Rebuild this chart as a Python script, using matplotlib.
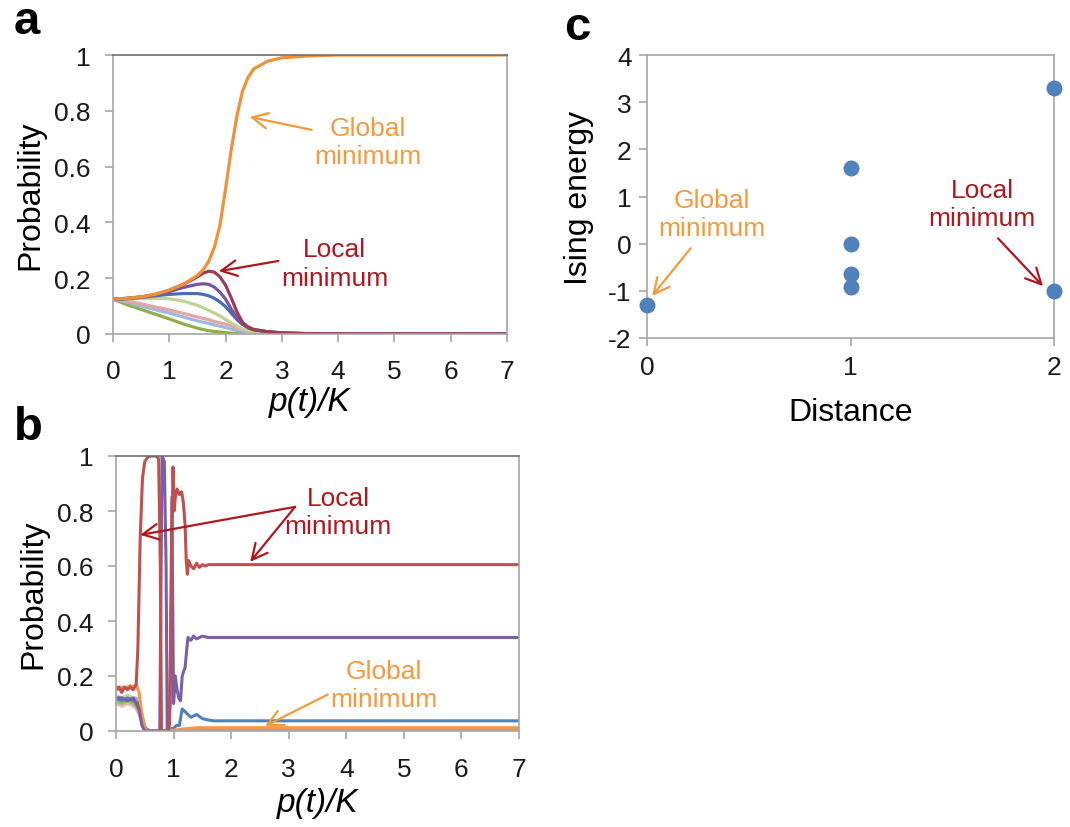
import matplotlib
matplotlib.use("Agg")
import matplotlib.pyplot as plt

plt.rcParams['font.family'] = ['Liberation Sans', 'DejaVu Sans']
plt.rcParams['axes.unicode_minus'] = False

# ---------------- Panel a data ----------------
xa = [0, 0.25, 0.5, 0.75, 1.0, 1.25, 1.5, 1.6, 1.7, 1.8, 1.9, 2.0, 2.1, 2.2, 2.3, 2.4, 2.5, 2.75, 3.0, 3.5, 4.0, 5.0, 6.0, 7.0]
a_global = [0.125, 0.128, 0.133, 0.142, 0.157, 0.178, 0.21, 0.23, 0.26, 0.31, 0.39, 0.52, 0.66, 0.78, 0.87, 0.92, 0.95, 0.978, 0.99, 0.997, 1, 1, 1, 1]
a_local = [0.125, 0.128, 0.133, 0.142, 0.157, 0.178, 0.205, 0.218, 0.225, 0.222, 0.205, 0.175, 0.13, 0.08, 0.042, 0.025, 0.016, 0.008, 0.004, 0.001, 0, 0, 0, 0]
a_purple = [0.125, 0.127, 0.132, 0.14, 0.152, 0.167, 0.178, 0.18, 0.178, 0.168, 0.15, 0.125, 0.09, 0.058, 0.035, 0.022, 0.015, 0.008, 0.004, 0.001, 0, 0, 0, 0]
a_blue = [0.125, 0.127, 0.131, 0.137, 0.142, 0.145, 0.145, 0.142, 0.137, 0.128, 0.115, 0.098, 0.075, 0.052, 0.035, 0.024, 0.016, 0.008, 0.004, 0.001, 0, 0, 0, 0]
a_lgreen = [0.125, 0.126, 0.128, 0.128, 0.126, 0.118, 0.103, 0.094, 0.085, 0.075, 0.065, 0.052, 0.04, 0.028, 0.018, 0.011, 0.007, 0.003, 0.001, 0, 0, 0, 0, 0]
a_pink = [0.125, 0.118, 0.108, 0.097, 0.086, 0.074, 0.061, 0.056, 0.051, 0.045, 0.04, 0.035, 0.03, 0.022, 0.015, 0.01, 0.007, 0.003, 0.001, 0, 0, 0, 0, 0]
a_lblue = [0.125, 0.114, 0.1, 0.087, 0.075, 0.061, 0.047, 0.042, 0.038, 0.033, 0.028, 0.023, 0.018, 0.013, 0.009, 0.006, 0.004, 0.002, 0.001, 0, 0, 0, 0, 0]
a_green = [0.125, 0.105, 0.088, 0.071, 0.054, 0.036, 0.021, 0.016, 0.012, 0.009, 0.007, 0.005, 0.003, 0.002, 0.001, 0, 0, 0, 0, 0, 0, 0, 0, 0]

# ---------------- Panel b data ----------------
xb_red = [0, 0.05, 0.1, 0.15, 0.2, 0.25, 0.3, 0.35, 0.38, 0.42, 0.46, 0.5, 0.55, 0.6, 0.65, 0.7, 0.74, 0.77, 0.79, 0.82,
          0.86, 0.9, 0.93, 0.96, 0.99, 1.01, 1.03, 1.06, 1.1, 1.14, 1.17, 1.2, 1.22, 1.24, 1.26, 1.3, 1.35, 1.4, 1.45,
          1.5, 1.55, 1.6, 1.7, 1.8, 7.0]
yb_red = [0.15, 0.16, 0.14, 0.16, 0.15, 0.16, 0.15, 0.17, 0.3, 0.7, 0.92, 0.98, 0.995, 1.0, 1.0, 1.0, 0.99, 0.6, 0.0, 0.0,
          0.0, 0.0, 0.02, 0.5, 0.96, 0.8, 0.85, 0.88, 0.86, 0.87, 0.83, 0.75, 0.62, 0.57, 0.62, 0.6, 0.59, 0.61, 0.595,
          0.605, 0.6, 0.605, 0.605, 0.605, 0.605]
xb_purple = [0, 0.1, 0.2, 0.3, 0.4, 0.45, 0.5, 0.6, 0.7, 0.76, 0.78, 0.8, 0.84, 0.87, 0.89, 0.91, 0.94, 0.97, 1.0, 1.03,
             1.06, 1.09, 1.12, 1.15, 1.18, 1.2, 1.23, 1.25, 1.3, 1.35, 1.4, 1.45, 1.5, 1.6, 1.7, 7.0]
yb_purple = [0.12, 0.12, 0.11, 0.12, 0.08, 0.02, 0.0, 0.0, 0.0, 0.0, 0.5, 1.0, 0.98, 0.6, 0.0, 0.0, 0.1, 0.85, 0.1, 0.2,
             0.15, 0.12, 0.11, 0.2, 0.22, 0.23, 0.3, 0.34, 0.33, 0.345, 0.335, 0.34, 0.345, 0.34, 0.34, 0.34]
xb_blue = [0, 0.1, 0.2, 0.3, 0.4, 0.45, 0.5, 0.6, 0.8, 1.0, 1.05, 1.1, 1.15, 1.2, 1.25, 1.3, 1.4, 1.5, 1.6, 1.7, 7.0]
yb_blue = [0.12, 0.11, 0.12, 0.11, 0.1, 0.05, 0.01, 0.0, 0.0, 0.01, 0.02, 0.02, 0.08, 0.07, 0.06, 0.05, 0.06, 0.045, 0.04, 0.037, 0.037]
xb_orange = [0, 0.05, 0.1, 0.15, 0.2, 0.25, 0.3, 0.35, 0.4, 0.45, 0.5, 0.55, 0.8, 1.0, 1.2, 1.4, 7.0]
yb_orange = [0.16, 0.15, 0.16, 0.155, 0.16, 0.165, 0.16, 0.17, 0.14, 0.06, 0.01, 0.0, 0.0, 0.003, 0.008, 0.012, 0.012]
xb_pale = [0, 0.1, 0.2, 0.3, 0.35, 0.4, 0.45, 0.5, 0.55, 1.0, 1.4, 7.0]
yb_lgreen = [0.13, 0.12, 0.13, 0.12, 0.11, 0.08, 0.04, 0.01, 0.0, 0.0, 0.006, 0.006]
yb_pink = [0.1, 0.09, 0.1, 0.09, 0.08, 0.06, 0.03, 0.01, 0.0, 0.0, 0.004, 0.004]
yb_lblue = [0.12, 0.12, 0.11, 0.12, 0.12, 0.1, 0.06, 0.02, 0.0, 0.0, 0.003, 0.003]
yb_green = [0.11, 0.1, 0.11, 0.1, 0.09, 0.07, 0.03, 0.005, 0.0, 0.0, 0.008, 0.008]

# ---------------- Panel c data ----------------
distance = [0, 1, 1, 1, 1, 2, 2]
ising_energy = [-1.3, 1.6, 0.0, -0.65, -0.92, 3.3, -1.0]

# ---------------- Styling ----------------
ORANGE = '#F0913A'
LOCAL_RED = '#B0161E'
GLOBAL_TXT = '#F39A3C'
SPINE = '#A6A6A6'
TICK_FS = 19
LABEL_FS = 23

fig = plt.figure(figsize=(10.7, 8.28), dpi=100)

def style_axes(ax, dark_top=True, xpad=10, ypad=8):
    for s in ['left', 'bottom', 'right']:
        ax.spines[s].set_color(SPINE)
        ax.spines[s].set_linewidth(1.2)
    ax.spines['top'].set_color('#6F6F6F' if dark_top else SPINE)
    ax.spines['top'].set_linewidth(1.2)
    ax.tick_params(axis='both', which='both', direction='out', length=6, width=1.2,
                   color=SPINE, labelsize=TICK_FS, labelcolor='#1A1A1A')
    ax.tick_params(axis='x', pad=xpad)
    ax.tick_params(axis='y', pad=ypad)
    ax.tick_params(top=False, right=False)

# Panel a
axa = fig.add_axes([113/1070, 1-335/828, 394/1070, 279/828])
pa = [
    (a_green, '#8DB04A'), (a_lblue, '#9DB9E1'), (a_pink, '#E3A5A5'), (a_lgreen, '#BCD494'),
    (a_blue, '#4A6DB0'), (a_purple, '#7257A3'), (a_local, '#A03A55'), (a_global, ORANGE),
]
for ys, c in pa:
    axa.plot(xa, ys, color=c, lw=2.3, solid_capstyle='round')
axa.set_xlim(0, 7)
axa.set_ylim(0, 1)
axa.set_xticks(range(0, 8))
axa.set_yticks([0, 0.2, 0.4, 0.6, 0.8, 1])
axa.set_yticklabels(['0', '0.2', '0.4', '0.6', '0.8', '1'])
style_axes(axa, xpad=12, ypad=10)
axa.set_ylabel('Probability', fontsize=LABEL_FS, labelpad=6)
axa.set_xlabel('p(t)/K', fontsize=LABEL_FS + 1, labelpad=2, style='italic')
axa.annotate('Global\nminimum', xy=(2.43, 0.778), xytext=(4.53, 0.688), fontsize=19, color=GLOBAL_TXT,
             ha='center', va='center', linespacing=1.25,
             arrowprops=dict(arrowstyle='->', color=GLOBAL_TXT, lw=1.6, mutation_scale=28,
                             shrinkA=0, shrinkB=0, relpos=(0.0, 0.72)))
axa.annotate('Local\nminimum', xy=(1.88, 0.225), xytext=(3.94, 0.254), fontsize=19, color=LOCAL_RED,
             ha='center', va='center', linespacing=1.25,
             arrowprops=dict(arrowstyle='->', color=LOCAL_RED, lw=1.6, mutation_scale=28,
                             shrinkA=0, shrinkB=0, relpos=(0.0, 0.55)))

# Panel b
axb = fig.add_axes([116/1070, 1-732/828, 403/1070, 275/828])
pb = [
    (xb_pale, yb_pink, '#E6B9B8'), (xb_pale, yb_lgreen, '#C3D69B'), (xb_pale, yb_lblue, '#95B3D7'),
    (xb_pale, yb_green, '#9BBB59'), (xb_blue, yb_blue, '#4F81BD'), (xb_orange, yb_orange, '#F79646'),
    (xb_purple, yb_purple, '#7A5FA6'), (xb_red, yb_red, '#C0504D'),
]
for xs, ys, c in pb:
    axb.plot(xs, ys, color=c, lw=2.2)
axb.set_xlim(0, 7)
axb.set_ylim(0, 1)
axb.set_xticks(range(0, 8))
axb.set_yticks([0, 0.2, 0.4, 0.6, 0.8, 1])
axb.set_yticklabels(['0', '0.2', '0.4', '0.6', '0.8', '1'])
style_axes(axb, xpad=13, ypad=10)
axb.set_ylabel('Probability', fontsize=LABEL_FS, labelpad=6)
axb.set_xlabel('p(t)/K', fontsize=LABEL_FS + 1, labelpad=4, style='italic')
axb.text(3.86, 0.796, 'Local\nminimum', fontsize=19, color=LOCAL_RED, ha='center', va='center', linespacing=1.25)
for head in [(0.42, 0.713), (2.33, 0.615)]:
    axb.annotate('', xy=head, xytext=(3.11, 0.815),
                 arrowprops=dict(arrowstyle='->', color=LOCAL_RED, lw=1.6, mutation_scale=28, shrinkA=0, shrinkB=0))
axb.annotate('Global\nminimum', xy=(2.59, 0.018), xytext=(4.66, 0.167), fontsize=19, color=GLOBAL_TXT,
             ha='center', va='center', linespacing=1.25,
             arrowprops=dict(arrowstyle='->', color=GLOBAL_TXT, lw=1.6, mutation_scale=28,
                             shrinkA=0, shrinkB=0, relpos=(0.1, 0.45)))

# Panel c
axc = fig.add_axes([647/1070, 1-339/828, 407/1070, 283/828])
axc.scatter(distance, ising_energy, s=110, color='#4F81BD', zorder=3, clip_on=False)
axc.set_xlim(0, 2)
axc.set_ylim(-2, 4)
axc.set_xticks([0, 1, 2])
axc.set_yticks(range(-2, 5))
style_axes(axc, dark_top=False, xpad=6, ypad=5)
axc.set_ylabel('Ising energy', fontsize=LABEL_FS, labelpad=10)
axc.set_xlabel('Distance', fontsize=LABEL_FS, labelpad=13)
axc.annotate('Global\nminimum', xy=(0.025, -1.11), xytext=(0.32, 0.63), fontsize=19, color=GLOBAL_TXT,
             ha='center', va='center', linespacing=1.25,
             arrowprops=dict(arrowstyle='->', color=GLOBAL_TXT, lw=1.6, mutation_scale=28,
                             shrinkA=0, shrinkB=0, relpos=(0.3, -0.15)))
axc.annotate('Local\nminimum', xy=(1.946, -0.9), xytext=(1.646, 0.84), fontsize=19, color=LOCAL_RED,
             ha='center', va='center', linespacing=1.25,
             arrowprops=dict(arrowstyle='->', color=LOCAL_RED, lw=1.6, mutation_scale=28,
                             shrinkA=0, shrinkB=0, relpos=(0.65, -0.15)))

# Panel letters
fig.text(14/1070, 1-22/828, 'a', fontsize=34, fontweight='bold', va='center', ha='left')
fig.text(14/1070, 1-428/828, 'b', fontsize=34, fontweight='bold', va='center', ha='left')
fig.text(564/1070, 1-28/828, 'c', fontsize=34, fontweight='bold', va='center', ha='left')

fig.savefig('out.png', dpi=100, facecolor='white')
